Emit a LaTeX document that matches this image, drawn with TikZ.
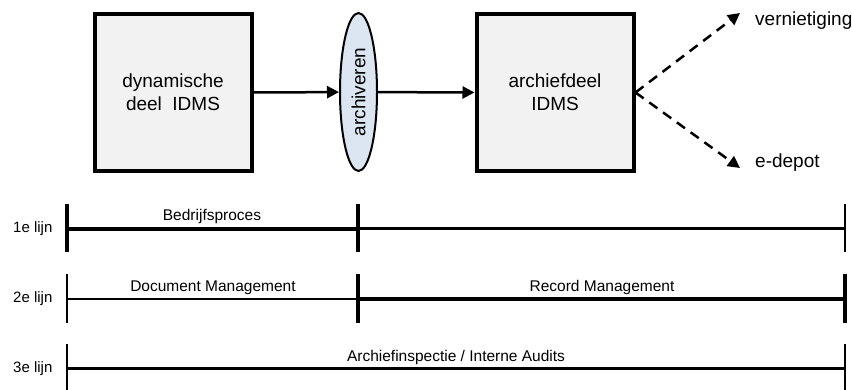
\documentclass[tikz,border=0pt]{standalone}
\usepackage{fontspec}
\setmainfont{Liberation Sans}
\usetikzlibrary{arrows.meta,shapes.geometric}
\definecolor{boxfill}{HTML}{F2F2F2}
\definecolor{ellfill}{HTML}{DCE6F2}
\begin{document}
\begin{tikzpicture}[x=1pt,y=1pt,
  bigbox/.style={draw,line width=4,fill=boxfill,minimum width=157,minimum height=157,align=center,inner sep=0,
    font=\fontsize{19}{23}\selectfont},
  archell/.style={ellipse,draw,line width=2,fill=ellfill,minimum width=158,minimum height=37,inner sep=0,
    rotate=90,font=\fontsize{19}{23}\selectfont},
  flow/.style={line width=2.5,-{Triangle[length=12,width=12]}},
  dflow/.style={line width=2.5,dash pattern=on 10 off 7,-{Triangle[length=12,width=12]}},
  lbl/.style={anchor=base,inner sep=0,font=\fontsize{15.5}{18}\selectfont},
  rowlbl/.style={anchor=base west,inner sep=0,font=\fontsize{15}{18}\selectfont},
  outlbl/.style={anchor=base west,inner sep=0,font=\fontsize{19}{23}\selectfont},
  thk/.style={line width=4},
  med/.style={line width=3},
  thn/.style={line width=2}]
\useasboundingbox (0,0) rectangle (852,-390);
% top diagram
\node[bigbox] (b1) at (173,-92.5) {dynamische\\deel\ \ IDMS};
\node[archell] (arch) at (358.5,-92) {archiveren};
\node[bigbox] (b2) at (555,-92.5) {archiefdeel\\IDMS};
\draw[flow] (b1.east) -- (arch);
\draw[flow] (arch) -- (b2.west);
\coordinate (vt) at (740,-13);
\coordinate (et) at (740,-168);
\draw[dflow] (b2.east) -- (vt);
\draw[dflow] (b2.east) -- (et);
\node[outlbl] (vern) at (755,-26) {vernietiging};
\node[outlbl] (edep) at (755,-168) {e-depot};
% row 1
\coordinate (r1l) at (67,-229); \coordinate (r1m) at (358,-229); \coordinate (r1r) at (845,-229);
\draw[thk] (67,-204) -- (67,-252);
\draw[thk] (358,-204) -- (358,-252);
\draw[thn] (845,-204) -- (845,-252);
\draw[thk] (r1l) -- (r1m);
\draw[med] (r1m) -- (r1r);
\node[rowlbl] (l1) at (13,-233) {1e lijn};
\node[lbl] (t1) at (212,-221) {Bedrijfsproces};
% row 2
\coordinate (r2l) at (67,-299); \coordinate (r2m) at (358,-299); \coordinate (r2r) at (845,-299);
\draw[thn] (67,-274) -- (67,-323);
\draw[thk] (358,-274) -- (358,-323);
\draw[thk] (845,-274) -- (845,-323);
\draw[thn] (r2l) -- (r2m);
\draw[thk] (r2m) -- (r2r);
\node[rowlbl] (l2) at (13,-303) {2e lijn};
\node[lbl] (t2) at (213,-291) {Document Management};
\node[lbl] (t3) at (602,-291) {Record Management};
% row 3
\coordinate (r3l) at (67,-368); \coordinate (r3r) at (845,-368);
\draw[thn] (67,-344) -- (67,-390);
\draw[thn] (845,-344) -- (845,-390);
\draw[med] (r3l) -- (r3r);
\node[rowlbl] (l3) at (13,-372) {3e lijn};
\node[lbl] (t4) at (456,-361) {Archiefinspectie / Interne Audits};
\end{tikzpicture}
\end{document}
